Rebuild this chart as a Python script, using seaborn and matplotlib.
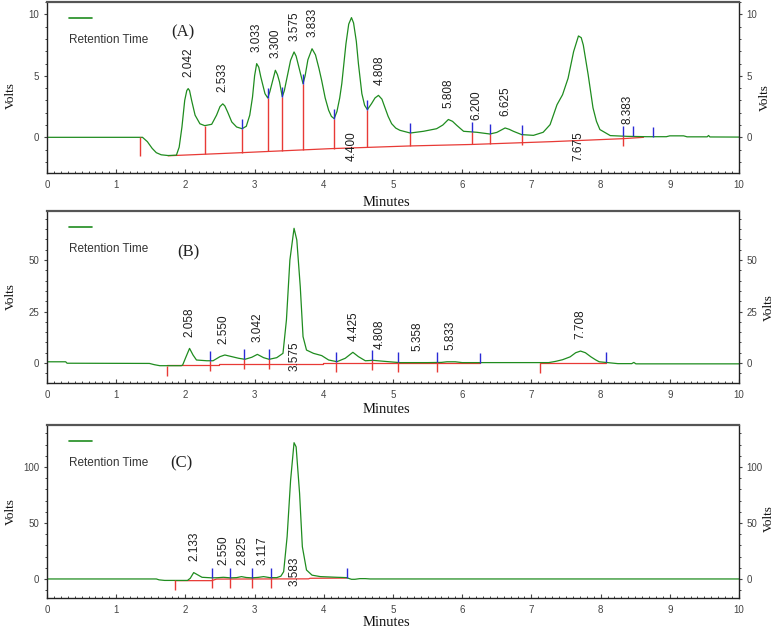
import numpy as np
import pandas as pd
import matplotlib
matplotlib.use("Agg")
import matplotlib.pyplot as plt
import seaborn as sns
from matplotlib.ticker import MultipleLocator

# ---------------- data ----------------
# Panel A chromatogram
a_time = [0.0, 1.38, 1.45, 1.52, 1.58, 1.65, 1.75, 1.87, 1.91, 1.95, 1.99, 2.02, 2.04, 2.06, 2.09,
          2.14, 2.21, 2.28, 2.38, 2.45, 2.50, 2.54, 2.57, 2.61, 2.67, 2.74, 2.82, 2.88, 2.93, 2.97,
          3.00, 3.03, 3.06, 3.09, 3.15, 3.19, 3.22, 3.25, 3.30, 3.33, 3.36, 3.40, 3.43, 3.46, 3.52,
          3.57, 3.60, 3.64, 3.70, 3.73, 3.77, 3.83, 3.88, 3.93, 3.97, 4.02, 4.07, 4.11, 4.15, 4.19,
          4.23, 4.26, 4.32, 4.36, 4.40, 4.43, 4.47, 4.50, 4.55, 4.59, 4.63, 4.69, 4.74, 4.79, 4.84,
          4.88, 4.93, 4.98, 5.04, 5.10, 5.25, 5.44, 5.63, 5.72, 5.80, 5.86, 5.92, 6.02, 6.21, 6.40,
          6.50, 6.62, 6.68, 6.74, 6.86, 7.03, 7.17, 7.27, 7.37, 7.45, 7.53, 7.61, 7.68, 7.72, 7.75,
          7.82, 7.89, 7.94, 7.99, 8.14, 8.38, 8.67, 8.95, 9.00, 9.20, 9.25, 9.54, 9.56, 9.58, 10.0]
a_volts = [0.0, 0.0, -0.35, -0.9, -1.25, -1.42, -1.48, -1.45, -0.8, 0.84, 3.0, 3.8, 3.96, 3.8, 3.0,
           1.8, 1.1, 0.95, 1.06, 1.8, 2.5, 2.72, 2.55, 2.06, 1.25, 0.84, 0.70, 0.9, 1.8, 3.28,
           5.0, 5.99, 5.7, 4.9, 3.55, 3.2, 3.7, 4.36, 5.45, 5.1, 4.5, 3.3, 3.8, 4.63, 6.26,
           6.94, 6.6, 5.7, 4.36, 5.0, 6.3, 7.2, 6.7, 5.6, 4.6, 3.2, 2.2, 1.7, 1.52, 2.1,
           3.2, 4.36, 7.6, 9.2, 9.73, 9.3, 7.8, 6.0, 3.55, 2.6, 2.25, 2.74, 3.2, 3.41, 3.1,
           2.47, 1.7, 1.11, 0.75, 0.57, 0.35, 0.49, 0.70, 1.0, 1.45, 1.3, 0.98, 0.49, 0.41, 0.27,
           0.4, 0.76, 0.65, 0.49, 0.22, 0.16, 0.41, 1.03, 2.65, 3.46, 4.8, 6.97, 8.24, 8.1, 7.5,
           5.1, 2.4, 1.3, 0.63, 0.14, 0.08, 0.05, 0.05, 0.12, 0.12, 0.04, 0.04, 0.15, 0.03, 0.02]
a_base_time = [1.75, 2.8, 4.1, 5.25, 6.14, 7.3, 8.32, 8.62]
a_base_volts = [-1.5, -1.25, -0.92, -0.70, -0.58, -0.35, -0.11, 0.0]
a_base_seg = [0, 0, 0, 0, 0, 0, 0, 0]
a_red_ticks = [1.35, 2.28, 2.82, 3.19, 3.40, 3.70, 4.15, 4.63, 5.24, 6.14, 6.40, 6.86, 8.32]
a_blue_ticks = [2.82, 3.19, 3.40, 3.70, 4.15, 4.63, 5.24, 6.14, 6.40, 6.86, 8.32, 8.47, 8.76]
a_labels_above = ["2.042", "2.533", "3.033", "3.300", "3.575", "3.833", "4.808",
                  "5.808", "6.200", "6.625", "8.383"]
a_labels_below = ["4.400", "7.675"]

# Panel B chromatogram
b_time = [0.0, 0.27, 0.29, 1.48, 1.55, 1.63, 1.94, 1.96, 2.01, 2.06, 2.11, 2.16, 2.31, 2.40, 2.50,
          2.57, 2.67, 2.77, 2.86, 2.96, 3.04, 3.13, 3.21, 3.32, 3.41, 3.46, 3.51, 3.57, 3.61, 3.66,
          3.70, 3.75, 3.85, 3.97, 4.07, 4.19, 4.31, 4.42, 4.50, 4.60, 4.71, 4.95, 5.10, 5.50, 5.70,
          5.78, 5.90, 6.00, 7.25, 7.35, 7.45, 7.56, 7.64, 7.71, 7.78, 7.86, 7.93, 7.98, 8.10, 8.25,
          8.45, 8.48, 8.51, 10.0]
b_volts = [0.6, 0.6, -0.1, -0.2, -0.8, -1.3, -1.3, -1.0, 3.1, 7.1, 3.9, 1.46, 1.1, 1.1, 3.1,
           3.9, 3.1, 2.3, 1.8, 2.8, 4.2, 2.6, 1.8, 2.6, 4.7, 20.9, 50.0, 65.4, 59.7, 37.0,
           12.8, 6.3, 4.7, 3.6, 1.46, 0.65, 2.3, 5.2, 3.1, 1.1, 1.3, 0.6, 0.2, 0.2, 0.3,
           0.6, 0.6, 0.2, 0.2, 0.8, 1.6, 3.0, 5.0, 5.8, 5.0, 3.0, 1.5, 0.6, 0.2, -0.3,
           -0.3, 0.3, -0.4, -0.4]
b_base_time = [1.73, 2.48, 2.48, 3.99, 3.99, 6.25, 7.13, 8.08]
b_base_volts = [-1.2, -1.2, -0.65, -0.65, 0.1, 0.1, 0.1, 0.1]
b_base_seg = [0, 0, 0, 0, 0, 0, 1, 1]
b_red_ticks = [1.73, 2.35, 2.85, 3.21, 4.18, 4.70, 5.07, 5.63, 7.13]
b_blue_ticks = [2.35, 2.85, 3.21, 4.18, 4.70, 5.07, 5.63, 6.25, 8.08]
b_labels_above = ["2.058", "2.550", "3.042", "4.425", "4.808", "5.358", "5.833", "7.708"]
b_labels_below = ["3.575"]

# Panel C chromatogram
c_time = [0.0, 1.58, 1.62, 1.70, 2.03, 2.07, 2.12, 2.18, 2.24, 2.38, 2.46, 2.55, 2.65, 2.74, 2.81,
          2.88, 2.96, 3.05, 3.13, 3.22, 3.32, 3.38, 3.42, 3.47, 3.52, 3.57, 3.60, 3.65, 3.69, 3.75,
          3.83, 3.95, 4.19, 4.33, 4.37, 4.40, 4.45, 4.52, 4.60, 4.67, 10.0]
c_volts = [0.0, 0.0, -0.8, -1.3, -1.3, 0.6, 5.7, 3.6, 1.5, 1.0, 1.1, 1.5, 1.0, 1.2, 2.1,
           1.3, 1.0, 1.4, 2.1, 1.2, 1.2, 2.5, 6.5, 37.8, 88.0, 121.7, 118.0, 76.5, 28.8, 8.0,
           3.4, 2.1, 1.5, 1.2, 0.3, -0.3, -0.3, 0.3, 0.3, 0.0, 0.0]
c_base_time = [1.85, 2.38, 2.45, 3.78, 3.80, 4.33]
c_base_volts = [-1.5, -1.5, -0.1, 0.1, 0.6, 0.8]
c_base_seg = [0, 0, 0, 0, 0, 0]
c_red_ticks = [1.85, 2.38, 2.65, 2.96, 3.24]
c_blue_ticks = [2.38, 2.65, 2.96, 3.24, 4.33]
c_labels_above = ["2.133", "2.550", "2.825", "3.117"]
c_labels_below = ["3.583"]

panel_letters = ["(A)", "(B)", "(C)"]
legend_text = "Retention Time"
x_title = "Minutes"
y_title = "Volts"

# ---------------- style ----------------
sns.set_theme(style="ticks")
plt.rcParams["font.family"] = ["Liberation Sans", "DejaVu Sans"]
SERIF = ["Liberation Serif", "DejaVu Serif"]
GREEN = "#1f8c1f"
RED = "#e83a36"
BLUE = "#2a2ad6"
W, H, DPI = 7.74, 6.28, 100

fig = plt.figure(figsize=(W, H), dpi=DPI)
fig.patch.set_facecolor("white")

layout = [
    dict(rect=[47/774, 1-173/628, 692/774, 171/628], ylim=(-2.9, 11.0), major=5, minor=1,
         letter=(0.197, 0.82), yl=0.45, ryl=0.44, rx=1.037, xl=-0.134),
    dict(rect=[47/774, 1-383/628, 692/774, 172/628], ylim=(-9.7, 73.8), major=25, minor=5,
         letter=(0.204, 0.76), yl=0.50, ryl=0.44, rx=1.043, xl=-0.116),
    dict(rect=[47/774, 1-598/628, 692/774, 173/628], ylim=(-17.0, 137.5), major=50, minor=10,
         letter=(0.194, 0.78), yl=0.50, ryl=0.46, rx=1.043, xl=-0.104),
]
panels = [
    (a_time, a_volts, a_base_time, a_base_volts, a_base_seg, a_red_ticks, a_blue_ticks,
     a_labels_above, a_labels_below),
    (b_time, b_volts, b_base_time, b_base_volts, b_base_seg, b_red_ticks, b_blue_ticks,
     b_labels_above, b_labels_below),
    (c_time, c_volts, c_base_time, c_base_volts, c_base_seg, c_red_ticks, c_blue_ticks,
     c_labels_above, c_labels_below),
]

for i, (lay, pan) in enumerate(zip(layout, panels)):
    t, v, bt, bv, bs, reds, blues, above, below = pan
    ax = fig.add_axes(lay["rect"])
    ax.set_facecolor("white")
    ymin, ymax = lay["ylim"]
    ax.set_xlim(0, 10)
    ax.set_ylim(ymin, ymax)
    ax_h_px = lay["rect"][3] * H * DPI
    tick_len = 10.0 * (ymax - ymin) / ax_h_px  # 10 px in data units

    bdf = pd.DataFrame({"Minutes": bt, "Volts": bv, "seg": bs})
    sns.lineplot(data=bdf, x="Minutes", y="Volts", units="seg", estimator=None, sort=False,
                 ax=ax, color=RED, lw=0.9, legend=False)
    df = pd.DataFrame({"Minutes": t, "Volts": v})
    sns.lineplot(data=df, x="Minutes", y="Volts", estimator=None, sort=False,
                 ax=ax, color=GREEN, lw=0.9, legend=False)

    tt = np.asarray(t, float)
    vv = np.asarray(v, float)
    for rt in reds:
        top = np.interp(rt, tt, vv)
        base = np.interp(rt, bt, bv)
        ax.vlines(rt, min(base, top - tick_len), top, color=RED, lw=1.0, zorder=3)
    for bl in blues:
        top = np.interp(bl, tt, vv)
        ax.vlines(bl, top, top + tick_len, color=BLUE, lw=1.0, zorder=3)

    for lbl in above:
        x0 = float(lbl)
        ax.annotate(lbl, xy=(x0, np.interp(x0, tt, vv)), xytext=(0, 8.6),
                    textcoords="offset points", rotation=90, ha="center", va="bottom",
                    fontsize=8.5, color="#1e1e1e")
    for lbl in below:
        x0 = float(lbl)
        ax.annotate(lbl, xy=(x0, 0), xycoords=("data", "axes fraction"), xytext=(0, 8.3),
                    textcoords="offset points", rotation=90, ha="center", va="bottom",
                    fontsize=8.5, color="#1e1e1e")

    # legend-like key
    ax.plot([0.032, 0.065], [0.905, 0.905], transform=ax.transAxes, color=GREEN, lw=1.2)
    ax.text(0.032, 0.78, legend_text, transform=ax.transAxes, ha="left", va="center",
            fontsize=8.5, color="#333333")
    ax.text(lay["letter"][0], lay["letter"][1], panel_letters[i], transform=ax.transAxes,
            ha="center", va="center", fontsize=12, family=SERIF, color="#222222")

    # axes labels
    ax.set_xlabel(x_title, family=SERIF, fontsize=10.5, color="#111111")
    ax.xaxis.set_label_coords(0.49, lay["xl"])
    ax.set_ylabel(y_title, family=SERIF, fontsize=9.5, color="#111111")
    ax.yaxis.set_label_coords(-0.043, lay["yl"])
    ax.text(lay["rx"], lay["ryl"], y_title, transform=ax.transAxes, rotation=90, ha="center",
            va="center", family=SERIF, fontsize=9.5, color="#111111")

    # ticks
    ax.xaxis.set_major_locator(MultipleLocator(1))
    ax.xaxis.set_minor_locator(MultipleLocator(0.1))
    ax.yaxis.set_major_locator(MultipleLocator(lay["major"]))
    ax.yaxis.set_minor_locator(MultipleLocator(lay["minor"]))
    ax.tick_params(axis="x", which="both", direction="in", bottom=True, top=False,
                   labelsize=7, colors="#444444", pad=5)
    ax.tick_params(axis="x", which="major", length=3, width=0.8)
    ax.tick_params(axis="x", which="minor", length=1.8, width=0.7)
    ax.tick_params(axis="y", which="both", direction="out", left=True, right=True,
                   labelleft=True, labelright=True, labelsize=7, colors="#444444", pad=3)
    ax.tick_params(axis="y", which="major", length=2.5, width=0.8)
    ax.tick_params(axis="y", which="minor", length=1.6, width=0.7)
    ax.set_xticks(range(0, 11))
    ax.set_xticklabels([str(k) for k in range(0, 11)])

    for side in ["left", "right", "bottom"]:
        ax.spines[side].set_visible(True)
        ax.spines[side].set_color("#222222")
        ax.spines[side].set_linewidth(1.0)
    ax.spines["top"].set_visible(True)
    ax.spines["top"].set_color("#555555")
    ax.spines["top"].set_linewidth(1.6)

fig.savefig("out.png", dpi=DPI, facecolor="white")
